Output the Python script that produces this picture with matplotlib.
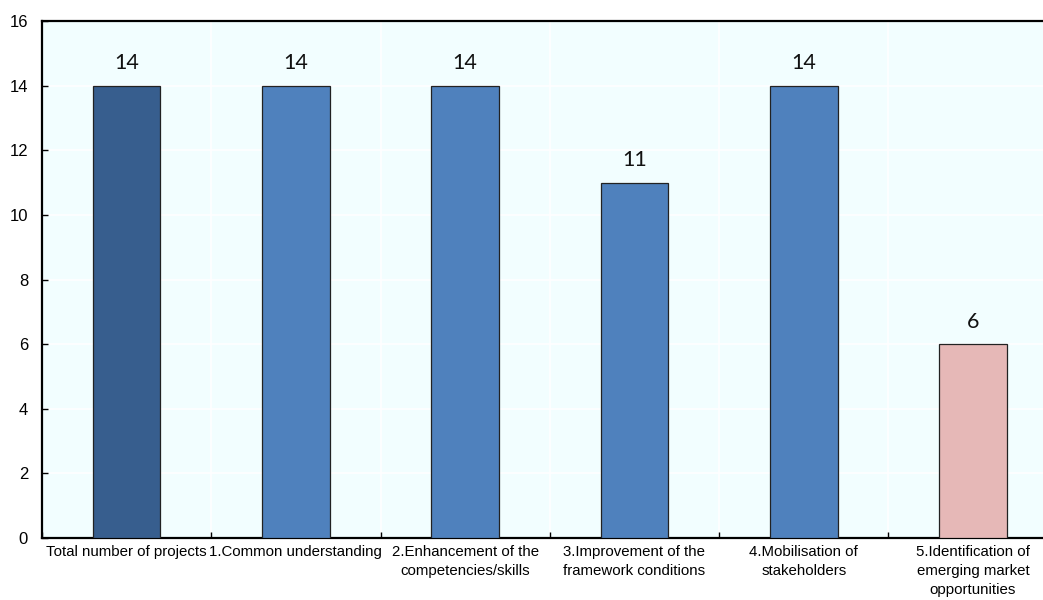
import matplotlib
matplotlib.use("Agg")
import matplotlib.pyplot as plt
import numpy as np

categories = [
    "Total number of projects",
    "1.Common understanding",
    "2.Enhancement of the\ncompetencies/skills",
    "3.Improvement of the\nframework conditions",
    "4.Mobilisation of\nstakeholders",
    "5.Identification of\nemerging market\nopportunities",
]
values = [14, 14, 14, 11, 14, 6]
bar_colors = ["#375E8E", "#4F81BD", "#4F81BD", "#4F81BD", "#4F81BD", "#E6B8B7"]
y_ticks = [0, 2, 4, 6, 8, 10, 12, 14, 16]

tick_font = ["Liberation Sans", "DejaVu Sans"]
label_font = ["Lato", "Open Sans", "DejaVu Sans"]

fig = plt.figure(figsize=(10.43, 6.0), dpi=100)
ax = fig.add_axes([42 / 1043, 62 / 600, (1057.6 - 42) / 1043, (538 - 21) / 600])
ax.set_facecolor("#F2FEFF")

x = np.arange(len(categories))
ax.bar(x, values, width=0.40, color=bar_colors, edgecolor="#222222",
       linewidth=0.9, zorder=3)

for xi, v in zip(x, values):
    ax.annotate(str(v), (xi, v), xytext=(0, 9), textcoords="offset points",
                ha="center", va="bottom", fontsize=15.5, family=label_font,
                color="#111111")

ax.set_xlim(-0.5, len(categories) - 0.5)
ax.set_ylim(0, 16)
ax.set_yticks(y_ticks)
ax.set_yticklabels([str(t) for t in y_ticks], family=tick_font, fontsize=12)

ax.set_xticks(x)
ax.set_xticklabels(categories, family=tick_font, fontsize=10.8, linespacing=1.45)
ax.tick_params(axis="x", which="major", length=0, pad=5)
bounds = np.arange(len(categories) + 1) - 0.5
ax.set_xticks(bounds, minor=True)
ax.tick_params(axis="x", which="minor", direction="in", length=4, width=1, color="black")
ax.tick_params(axis="y", direction="in", length=4, width=1, pad=10)

ax.grid(axis="y", which="major", color="white", linewidth=1.2, zorder=0)
ax.grid(axis="x", which="minor", color="white", linewidth=1.2, zorder=0)
ax.set_axisbelow(True)

for s in ["top", "left", "bottom"]:
    ax.spines[s].set_linewidth(1.6)
    ax.spines[s].set_color("black")
ax.spines["right"].set_visible(False)

fig.savefig("out.png", dpi=100)
